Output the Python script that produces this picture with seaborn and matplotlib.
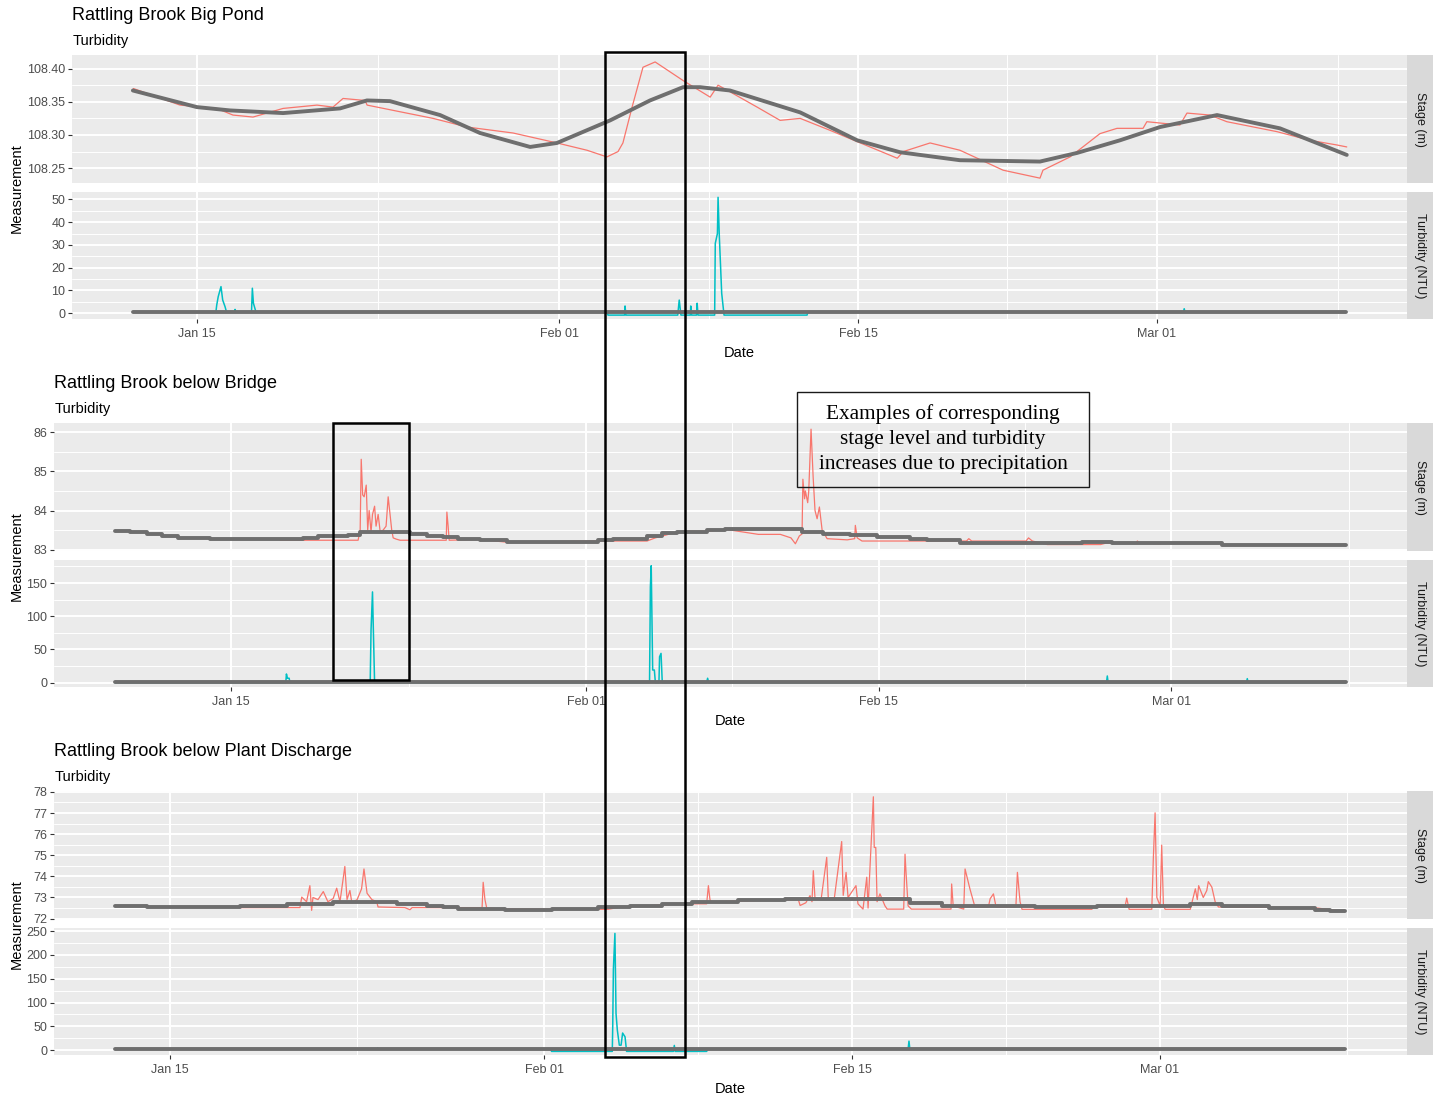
"""stage and turbidity at three rattling brook stations, winter record"""

import pandas as pd
import matplotlib.pyplot as plt
import matplotlib.dates as mdates
from matplotlib.patches import Rectangle
import seaborn as sns

START = pd.Timestamp("2019-01-01")  # all days below are counted from Jan 01

# ---- Rattling Brook Big Pond ----
pond_stage_day = [11.03, 13.22, 14.94, 15.70, 16.64, 18.05, 19.64, 20.39, 20.86, 21.89, 21.99,
                  23.53, 25.08, 26.67, 28.83, 30.89, 32.30, 33.23, 33.75, 33.98, 34.41, 34.92,
                  35.49, 36.10, 36.80, 38.07, 38.44, 39.00, 40.27, 41.35, 42.29, 43.69, 44.96,
                  46.84, 47.12, 48.38, 49.78, 51.80, 53.53, 53.67, 54.94, 56.34, 57.14, 58.36,
                  58.54, 60.09, 60.42, 61.50, 62.29, 64.64, 66.18, 67.44, 67.91]
pond_stage_val = [108.370, 108.345, 108.340, 108.330, 108.327, 108.340, 108.345, 108.342, 108.355,
                  108.352, 108.345, 108.335, 108.325, 108.312, 108.303, 108.288, 108.277, 108.267,
                  108.275, 108.288, 108.342, 108.402, 108.410, 108.397, 108.382, 108.357, 108.375,
                  108.365, 108.342, 108.322, 108.325, 108.307, 108.290, 108.265, 108.275, 108.288,
                  108.277, 108.247, 108.235, 108.247, 108.267, 108.302, 108.310, 108.310, 108.320,
                  108.315, 108.333, 108.330, 108.320, 108.305, 108.292, 108.285, 108.282]
pond_fit_day = [11.01, 14.01, 15.56, 18.05, 20.72, 21.98, 23.06, 25.41, 27.28, 29.63, 30.89,
                33.38, 35.25, 36.80, 37.60, 39.00, 42.29, 44.96, 46.97, 49.78, 53.53, 55.27,
                57.28, 59.16, 61.83, 64.78, 67.91]
pond_fit_val = [108.367, 108.342, 108.337, 108.333, 108.340, 108.352, 108.351, 108.330, 108.303,
                108.282, 108.288, 108.322, 108.352, 108.372, 108.372, 108.367, 108.334, 108.292,
                108.274, 108.262, 108.260, 108.273, 108.292, 108.312, 108.330, 108.310, 108.270]
pond_turb_day = [11.03, 14.90, 14.94, 15.01, 15.14, 15.22, 15.33, 15.40, 15.78, 15.80, 15.84,
                 16.57, 16.61, 16.66, 16.78, 33.24, 33.28, 34.06, 34.08, 34.12, 36.55, 36.62,
                 36.70, 37.14, 37.16, 37.20, 37.43, 37.46, 37.50, 38.28, 38.31, 38.41, 38.44,
                 38.50, 38.61, 38.72, 42.61, 42.65, 60.25, 60.29, 60.33, 67.88]
pond_turb_val = [0.5, 0.5, 3.6, 7.3, 11.7, 5.8, 2.9, 0.5, 0.5, 1.7, 0.5,
                 0.5, 11.0, 4.4, 0.5, 0.5, -0.8, -0.8, 3.2, -0.8, -0.8, 5.8,
                 -0.8, -0.8, 3.2, -0.8, -0.8, 4.4, -0.8, -0.8, 30.7, 35.0, 50.9,
                 33.6, 8.8, -0.8, -0.8, 0.5, 0.5, 2.0, 0.5, 0.5]
pond_turb_fit_day = [11.03, 67.88]
pond_turb_fit_val = [0.5, 0.5]

# ---- Rattling Brook below Bridge ----
bridge_stage_day = [16.35, 20.08, 20.18, 20.23, 20.30, 20.37, 20.47, 20.54, 20.61, 20.70, 20.77,
                    20.87, 20.94, 21.04, 21.14, 21.28, 21.42, 21.52, 21.61, 21.69, 21.76, 21.90,
                    22.09, 24.30, 24.33, 24.39, 24.44, 25.90, 27.20, 31.58, 33.91, 34.30, 35.35,
                    35.74, 36.78, 37.66, 39.24, 40.29, 40.80, 41.01, 41.20, 41.33, 41.37, 41.45,
                    41.49, 41.60, 41.65, 41.76, 41.86, 41.95, 42.05, 42.16, 42.29, 42.53, 43.49,
                    43.85, 43.88, 43.97, 44.20, 47.16, 49.20, 49.31, 49.45, 52.05, 52.17, 52.35,
                    53.07, 55.62, 55.90, 57.30, 57.38, 57.48, 58.49]
bridge_stage_val = [83.24, 83.24, 83.50, 85.31, 84.40, 84.35, 84.65, 83.50, 84.00, 83.45, 83.90,
                    84.11, 83.60, 83.90, 83.45, 83.50, 83.60, 84.35, 83.90, 83.50, 83.30, 83.27,
                    83.24, 83.24, 83.96, 83.60, 83.24, 83.26, 83.19, 83.22, 83.22, 83.30, 83.45,
                    83.47, 83.47, 83.52, 83.39, 83.39, 83.30, 83.15, 83.35, 83.40, 84.80, 84.30,
                    84.50, 84.20, 84.50, 86.08, 84.86, 84.00, 83.79, 84.09, 83.50, 83.28, 83.25,
                    83.28, 83.62, 83.30, 83.22, 83.22, 83.22, 83.28, 83.22, 83.22, 83.30, 83.22,
                    83.13, 83.13, 83.17, 83.17, 83.22, 83.17, 83.15]
bridge_fit_day = [8.44, 9.16, 9.96, 10.68, 11.48, 12.99, 17.45, 18.17, 19.60, 20.18, 22.57,
                  23.39, 24.15, 24.87, 25.90, 27.20, 31.58, 32.30, 33.91, 34.63, 35.35, 36.78,
                  37.66, 41.33, 42.35, 43.64, 44.92, 46.52, 47.32, 48.91, 54.74, 56.18, 61.44,
                  67.35]
bridge_fit_val = [83.48, 83.44, 83.39, 83.34, 83.30, 83.28, 83.30, 83.34, 83.38, 83.44, 83.40,
                  83.36, 83.32, 83.28, 83.24, 83.19, 83.24, 83.26, 83.34, 83.42, 83.45, 83.49,
                  83.54, 83.45, 83.41, 83.37, 83.32, 83.28, 83.24, 83.17, 83.20, 83.17, 83.13,
                  83.13]
bridge_turb_day = [8.44, 16.62, 16.65, 16.70, 16.78, 16.82, 20.66, 20.70, 20.77, 20.82, 20.87,
                   34.03, 34.07, 34.11, 34.18, 34.26, 34.31, 34.48, 34.51, 34.58, 34.64, 36.76,
                   36.81, 36.86, 55.90, 55.94, 55.98, 62.60, 62.64, 62.68, 67.35]
bridge_turb_val = [0, 0, 13, 6.6, 6.6, 0, 0, 79, 136.6, 67, 0,
                   0, 144, 176, 19, 19, 0, 0, 39, 44, 0, 0,
                   6.6, 0, 0, 10, 0, 0, 6, 0, 0]
bridge_turb_fit_day = [8.44, 67.35]
bridge_turb_fit_val = [1.0, 1.0]

# ---- Rattling Brook below Plant Discharge ----
plant_stage_day = [17.17, 19.90, 19.98, 20.20, 20.35, 20.43, 20.49, 20.72, 20.96, 21.17, 21.41,
                   21.57, 21.72, 21.94, 22.04, 22.17, 22.26, 22.50, 22.70, 22.81, 22.95, 23.17,
                   23.39, 23.45, 24.67, 24.90, 25.00, 28.18, 28.23, 28.31, 28.39, 29.22, 33.45,
                   33.90, 34.50, 37.41, 38.39, 38.47, 38.54, 38.60, 42.56, 42.64, 42.90, 43.09,
                   43.18, 43.24, 43.32, 43.60, 43.85, 43.92, 44.20, 44.53, 44.60, 44.73, 44.82,
                   45.18, 45.27, 45.50, 45.67, 45.73, 45.97, 46.01, 46.08, 46.14, 46.27, 46.50,
                   46.60, 47.35, 47.41, 47.46, 47.55, 47.70, 49.50, 49.53, 49.60, 50.08, 50.14,
                   50.36, 50.59, 51.20, 51.28, 51.43, 51.55, 52.45, 52.52, 52.64, 52.73, 55.90,
                   56.00, 57.41, 57.49, 57.60, 58.63, 58.70, 58.78, 58.86, 59.01, 59.08, 59.16,
                   59.24, 60.38, 60.61, 60.70, 60.76, 60.97, 61.13, 61.20, 61.36, 61.51, 61.66,
                   66.00, 67.42]
plant_stage_val = [72.52, 72.52, 73.02, 72.80, 73.56, 72.39, 73.00, 72.90, 73.28, 72.80, 72.95,
                   73.44, 72.80, 74.47, 72.90, 73.33, 72.75, 72.90, 73.41, 74.35, 73.20, 72.90,
                   72.80, 72.55, 72.52, 72.42, 72.52, 72.52, 73.72, 72.90, 72.50, 72.45, 72.44,
                   72.44, 72.55, 72.70, 72.70, 73.56, 72.90, 72.80, 72.90, 72.62, 72.75, 73.09,
                   72.80, 74.27, 72.90, 72.95, 74.90, 72.95, 73.00, 75.65, 73.10, 74.19, 73.00,
                   73.56, 72.70, 72.45, 73.96, 72.50, 77.77, 75.37, 75.37, 72.80, 73.17, 72.60,
                   72.45, 72.45, 75.05, 74.11, 72.60, 72.45, 72.45, 73.64, 72.60, 72.45, 74.35,
                   73.41, 72.55, 72.55, 72.94, 73.17, 72.55, 72.55, 74.19, 72.80, 72.44, 72.44,
                   72.55, 72.55, 72.97, 72.44, 72.44, 74.85, 77.01, 73.00, 72.60, 75.48, 72.60,
                   72.44, 72.44, 73.41, 72.90, 73.56, 73.00, 73.33, 73.75, 73.49, 72.80, 72.55,
                   72.52, 72.33]
plant_fit_day = [11.49, 12.93, 17.17, 19.29, 21.41, 24.30, 25.66, 26.41, 27.10, 29.22, 31.34,
                 33.46, 34.91, 36.35, 37.71, 39.83, 41.95, 47.64, 49.08, 50.44, 53.32, 56.13,
                 60.38, 61.82, 63.94, 66.06, 66.74, 67.42]
plant_fit_val = [72.62, 72.55, 72.60, 72.70, 72.78, 72.67, 72.60, 72.55, 72.47, 72.39, 72.47,
                 72.56, 72.62, 72.70, 72.78, 72.86, 72.94, 72.75, 72.62, 72.58, 72.55, 72.61,
                 72.70, 72.62, 72.52, 72.42, 72.36, 72.36]
plant_turb_day = [11.49, 23.40, 23.43, 23.46, 31.30, 31.34, 34.10, 34.12, 34.15, 34.22, 34.27,
                  34.33, 34.42, 34.50, 34.57, 34.68, 34.75, 36.88, 36.92, 36.96, 38.39, 38.45,
                  47.55, 47.59, 47.63, 67.42]
plant_turb_val = [2, 2, 4.5, 2, 2, -2.5, -2.5, 49, 169.5, 245, 77,
                  42, 10.5, 10.5, 36, 28, -2.5, -2.5, 10, -2.5, -2.5, 2,
                  2, 19, 2, 2]
plant_turb_fit_day = [11.49, 67.42]
plant_turb_fit_val = [2.0, 2.0]

# axis ticks
pond_stage_ticks = [108.25, 108.30, 108.35, 108.40]
pond_turb_ticks = [0, 10, 20, 30, 40, 50]
bridge_stage_ticks = [83, 84, 85, 86]
bridge_turb_ticks = [0, 50, 100, 150]
plant_stage_ticks = [72, 73, 74, 75, 76, 77, 78]
plant_turb_ticks = [0, 50, 100, 150, 200, 250]
major_days = [14, 31, 45, 59]          # Jan 15, Feb 01, Feb 15, Mar 01
minor_days = [22.5, 38, 52, 67.5]

W, H = 1437, 1097
RED = "#F8766D"
CYAN = "#00BFC4"
GREY = "#6E6E6E"
TICK_TXT = "#4D4D4D"

sns.set_theme(style="darkgrid")
plt.rcParams["font.family"] = ["Liberation Sans", "DejaVu Sans"]

fig = plt.figure(figsize=(W / 100, H / 100), dpi=100)


def when(days):
    return mdates.date2num(START + pd.to_timedelta(days, unit="D"))


def px_box(left, top, right, bottom):
    return [left / W, 1 - bottom / H, (right - left) / W, (bottom - top) / H]


def draw_line(ax, days, vals, color, lw, steps=False):
    sns.lineplot(x=START + pd.to_timedelta(days, unit="D"), y=vals, ax=ax, color=color,
                 linewidth=lw, estimator=None,
                 drawstyle="steps-post" if steps else "default")


def style_facet(ax, xlim, ylim, yticks, fmt, show_x):
    ax.set_facecolor("#EBEBEB")
    step = yticks[1] - yticks[0]
    ax.set_yticks(yticks)
    ax.set_yticklabels([fmt.format(t) for t in yticks])
    ax.set_yticks([t - step / 2 for t in yticks] + [yticks[-1] + step / 2], minor=True)
    ax.set_xticks(when(major_days))
    ax.set_xticks(when(minor_days), minor=True)
    ax.xaxis.set_major_formatter(mdates.DateFormatter("%b %d"))
    # limits after ticks, so the tick lists do not widen the view
    ax.set_xlim(when(xlim[0]), when(xlim[1]))
    ax.set_ylim(ylim)
    ax.grid(which="major", color="white", linewidth=1.4)
    ax.grid(which="minor", color="white", linewidth=0.7)
    ax.set_axisbelow(True)
    for sp in ax.spines.values():
        sp.set_visible(False)
    ax.tick_params(which="minor", length=0)
    ax.tick_params(axis="y", which="major", left=True, length=3, width=0.8, color="#333333",
                   labelcolor=TICK_TXT, labelsize=9, pad=2)
    if show_x:
        ax.tick_params(axis="x", which="major", bottom=True, length=3, width=0.8,
                       color="#333333", labelcolor=TICK_TXT, labelsize=9, pad=3)
    else:
        ax.tick_params(axis="x", which="major", length=0, labelbottom=False)
    ax.set_xlabel("")
    ax.set_ylabel("")


def strip(top, bottom, label):
    s = fig.add_axes(px_box(1406.7, top, 1432.7, bottom))
    s.set_facecolor("#D9D9D9")
    s.grid(False)
    s.set_xticks([])
    s.set_yticks([])
    for sp in s.spines.values():
        sp.set_visible(False)
    s.text(0.5, 0.5, label, rotation=270, ha="center", va="center", fontsize=9,
           color="#1A1A1A", transform=s.transAxes)


def draw_site(top, left, title, xlim, stage, stage_fit, stage_ylim, stage_ticks, stage_fmt,
              turb, turb_fit, turb_ylim, turb_ticks, fit_steps):
    ax_s = fig.add_axes(px_box(left, top + 55.3, 1406.7, top + 182.8))
    draw_line(ax_s, stage[0], stage[1], RED, 0.9)
    draw_line(ax_s, stage_fit[0], stage_fit[1], GREY, 2.8, steps=fit_steps)
    style_facet(ax_s, xlim, stage_ylim, stage_ticks, stage_fmt, False)

    ax_t = fig.add_axes(px_box(left, top + 192.3, 1406.7, top + 319.2))
    draw_line(ax_t, turb[0], turb[1], CYAN, 1.1)
    draw_line(ax_t, turb_fit[0], turb_fit[1], GREY, 2.8)
    style_facet(ax_t, xlim, turb_ylim, turb_ticks, "{:g}", True)

    strip(top + 55.3, top + 182.8, "Stage (m)")
    strip(top + 192.3, top + 319.2, "Turbidity (NTU)")

    fig.text(left / W, 1 - (top + 16) / H, title, fontsize=13, color="black",
             ha="left", va="center")
    fig.text(left / W, 1 - (top + 40.5) / H, "Turbidity", fontsize=10.5, color="black",
             ha="left", va="center")
    fig.text(16.7 / W, 1 - (top + 188.5) / H, "Measurement", fontsize=10.5, rotation=90,
             ha="center", va="center", color="black")
    fig.text((left + 1406.7) / 2 / W, 1 - (top + 352.8) / H, "Date", fontsize=10.5,
             ha="center", va="center", color="black")


draw_site(0, 72.3, "Rattling Brook Big Pond", (8.17, 70.72),
          (pond_stage_day, pond_stage_val), (pond_fit_day, pond_fit_val),
          (108.228, 108.420), pond_stage_ticks, "{:.2f}",
          (pond_turb_day, pond_turb_val), (pond_turb_fit_day, pond_turb_fit_val),
          (-2.6, 53.1), pond_turb_ticks, False)

draw_site(368, 54.3, "Rattling Brook below Bridge", (5.54, 70.27),
          (bridge_stage_day, bridge_stage_val), (bridge_fit_day, bridge_fit_val),
          (82.97, 86.23), bridge_stage_ticks, "{:g}",
          (bridge_turb_day, bridge_turb_val), (bridge_turb_fit_day, bridge_turb_fit_val),
          (-6.9, 184.2), bridge_turb_ticks, True)

draw_site(736, 54.3, "Rattling Brook below Plant Discharge", (8.73, 70.22),
          (plant_stage_day, plant_stage_val), (plant_fit_day, plant_fit_val),
          (71.99, 78.03), plant_stage_ticks, "{:g}",
          (plant_turb_day, plant_turb_val), (plant_turb_fit_day, plant_turb_fit_val),
          (-10.5, 255.7), plant_turb_ticks, True)

# hand-drawn annotation layer on top of everything
over = fig.add_axes([0, 0, 1, 1], zorder=10)
over.set_xlim(0, W)
over.set_ylim(H, 0)
over.axis("off")
over.patch.set_alpha(0)
over.add_patch(Rectangle((605, 52.3), 80, 1004.4, fill=False, edgecolor="black", linewidth=1.8))
over.add_patch(Rectangle((332.7, 423.3), 76.6, 256.7, fill=False, edgecolor="black", linewidth=1.8))
over.add_patch(Rectangle((796.7, 391.7), 292.6, 95.3, fill=False, edgecolor="#1A1A1A", linewidth=1.0))
note_lines = ["Examples of corresponding", "stage level and turbidity", "increases due to precipitation"]
for i, line in enumerate(note_lines):
    over.text(943, 414.3 + 25 * i, line, family=["Liberation Serif", "DejaVu Serif"],
              fontsize=15.3, ha="center", va="center", color="black")

fig.savefig("out.png", dpi=100)
plt.close(fig)
